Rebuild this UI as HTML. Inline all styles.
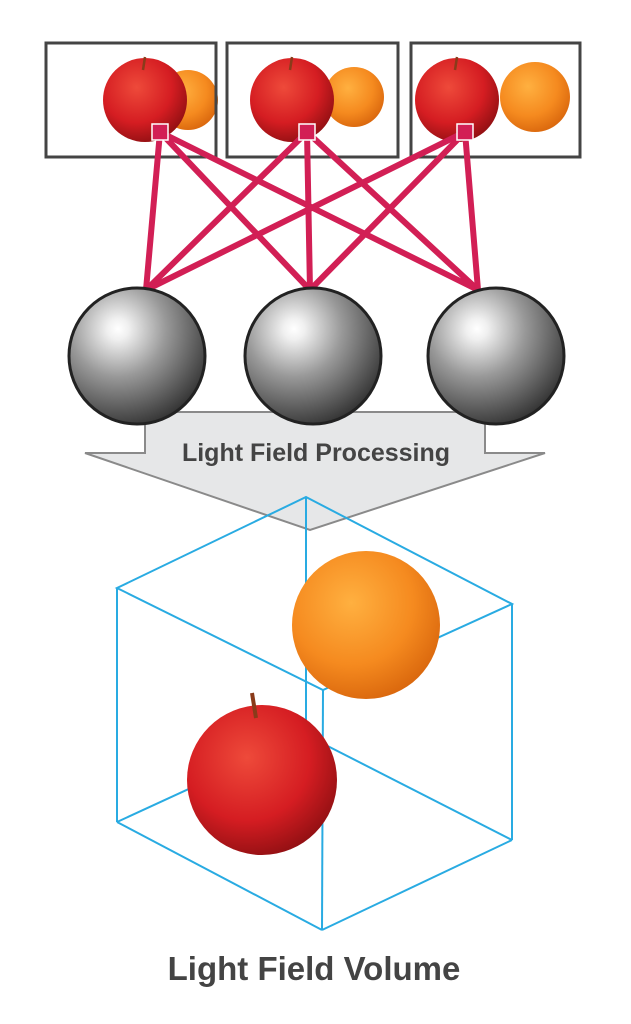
<!DOCTYPE html>
<html><head><style>html,body{margin:0;padding:0;background:#fff}svg{display:block}</style></head>
<body>
<svg width="631" height="1024" viewBox="0 0 631 1024" xmlns="http://www.w3.org/2000/svg">
<defs>
<radialGradient id="sph" cx="0.36" cy="0.3" r="0.78">
<stop offset="0" stop-color="#ffffff"/><stop offset="0.1" stop-color="#f0f0f0"/><stop offset="0.45" stop-color="#999"/><stop offset="1" stop-color="#2a2a2a"/></radialGradient>
<radialGradient id="app" cx="0.4" cy="0.35" r="0.7">
<stop offset="0" stop-color="#ee4a3a"/><stop offset="0.6" stop-color="#d51d22"/><stop offset="1" stop-color="#8e0f12"/></radialGradient>
<radialGradient id="ora" cx="0.4" cy="0.35" r="0.7">
<stop offset="0" stop-color="#ffb040"/><stop offset="0.6" stop-color="#f58a1f"/><stop offset="1" stop-color="#d8650c"/></radialGradient>
</defs>
<circle cx="188" cy="100" r="30" fill="url(#ora)"/>
<circle cx="145" cy="100" r="42" fill="url(#app)"/>
<circle cx="354" cy="97" r="30" fill="url(#ora)"/>
<circle cx="292" cy="100" r="42" fill="url(#app)"/>
<circle cx="535" cy="97" r="35" fill="url(#ora)"/>
<circle cx="457" cy="100" r="42" fill="url(#app)"/>
<g stroke="#8a3b1a" stroke-width="2.5"><line x1="145" y1="57" x2="143" y2="70"/><line x1="292" y1="57" x2="290" y2="70"/><line x1="457" y1="57" x2="455" y2="70"/></g>
<g fill="none" stroke="#444" stroke-width="3">
<rect x="46" y="43" width="170" height="114"/><rect x="227" y="43" width="171" height="114"/><rect x="411" y="43" width="169" height="114"/></g>
<g stroke="#d21f55" stroke-width="6" stroke-linecap="round">
<line x1="160" y1="132" x2="146" y2="290"/><line x1="160" y1="132" x2="310" y2="290"/><line x1="160" y1="132" x2="478" y2="290"/>
<line x1="307" y1="132" x2="146" y2="290"/><line x1="307" y1="132" x2="310" y2="290"/><line x1="307" y1="132" x2="478" y2="290"/>
<line x1="465" y1="132" x2="146" y2="290"/><line x1="465" y1="132" x2="310" y2="290"/><line x1="465" y1="132" x2="478" y2="290"/>
</g>
<g fill="#d21f55" stroke="#fff" stroke-width="1.5">
<rect x="152" y="124" width="16" height="16"/><rect x="299" y="124" width="16" height="16"/><rect x="457" y="124" width="16" height="16"/></g>
<polygon points="145,412 485,412 485,453 545,453 310,530 85,453 145,453" fill="#e6e7e8" stroke="#8a8a8a" stroke-width="2"/>
<g stroke="#222" stroke-width="3" fill="url(#sph)">
<circle cx="137" cy="356" r="68"/><circle cx="313" cy="356" r="68"/><circle cx="496" cy="356" r="68"/></g>
<text x="316" y="461" text-anchor="middle" font-family="Liberation Sans, sans-serif" font-size="25" font-weight="bold" fill="#444">Light Field Processing</text>
<g stroke="#29abe2" stroke-width="2" fill="none">
<line x1="306" y1="497" x2="306" y2="735"/><line x1="306" y1="735" x2="117" y2="822"/><line x1="306" y1="735" x2="512" y2="840"/>
<polygon points="306,497 512,604 323,690 117,588"/>
<line x1="117" y1="588" x2="117" y2="822"/><line x1="512" y1="604" x2="512" y2="840"/><line x1="323" y1="690" x2="322" y2="930"/>
<line x1="117" y1="822" x2="322" y2="930"/><line x1="322" y1="930" x2="512" y2="840"/>
</g>
<circle cx="366" cy="625" r="74" fill="url(#ora)"/>
<circle cx="262" cy="780" r="75" fill="url(#app)"/>
<line x1="252" y1="693" x2="256" y2="718" stroke="#8a3b1a" stroke-width="4"/>
<text x="314" y="980" text-anchor="middle" font-family="Liberation Sans, sans-serif" font-size="33" font-weight="bold" fill="#444">Light Field Volume</text>
</svg>
</body></html>
